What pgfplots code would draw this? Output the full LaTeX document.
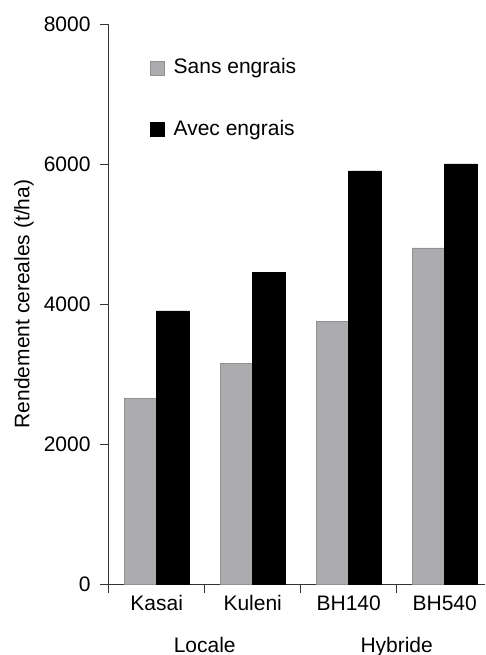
\documentclass[border=0pt]{standalone}
\usepackage{fontspec}
\setmainfont{Liberation Sans}
\usepackage{pgfplots}
\pgfplotsset{compat=1.18}

\definecolor{barGrey}{RGB}{172,172,174}
\definecolor{barGreyLine}{RGB}{145,145,147}

\pgfplotstableread{
idx sans avec
0 2650 3900
1 3150 4450
2 3750 5900
3 4800 6000
}\yields

\begin{document}
\fontsize{21}{25}\selectfont
\begin{tikzpicture}
  % frame of the reference picture, axis box sits at (0,0)
  \path[use as bounding box] (-108.7pt,-71pt) rectangle (377.3pt,584pt);
  \begin{axis}[
    at={(0pt,0pt)}, anchor=south west,
    scale only axis,
    width=376.3pt, height=560pt,
    ybar=0pt, bar width=32.3pt,
    xmin=-0.5, xmax=3.42,
    ymin=0, ymax=8000,
    enlargelimits=false,
    clip=false,
    axis x line=bottom, axis y line=left,
    axis line style={-, black!80},
    tick align=outside,
    major tick length=9pt, minor tick length=9pt,
    tick style={black!80, thin},
    xtick={0,1,2,3},
    xticklabels={Kasai,Kuleni,BH140,BH540},
    major x tick style={draw=none},
    minor xtick={-0.5,0.5,1.5,2.5},
    ytick={0,2000,4000,6000,8000},
    /pgf/number format/.cd, 1000 sep={}, assume math mode=true, /pgfplots/.cd,
    xticklabel style={anchor=base, yshift=-17pt},
    yticklabel style={xshift=-2pt},
    ylabel={Rendement cereales (t/ha)},
    ylabel style={at={(rel axis cs:-0.225,0.5)}, anchor=center},
    legend style={at={(rel axis cs:0.110,0.942)}, anchor=north west,
      draw=none, fill=none, inner sep=0pt, row sep=39pt, column sep=7pt,
      cells={anchor=west, inner sep=0pt}},
    legend image code/.code={\draw[#1] (0pt,-7pt) rectangle (14pt,7pt);},
  ]
    \addplot[fill=barGrey, draw=barGreyLine] table[x=idx, y=sans] {\yields};
    \addplot[fill=black, draw=black] table[x=idx, y=avec] {\yields};
    \legend{Sans engrais, Avec engrais}
    \node[anchor=base] at (axis cs:0.5,0) [yshift=-68pt] {Locale};
    \node[anchor=base] at (axis cs:2.5,0) [yshift=-68pt] {Hybride};
  \end{axis}
\end{tikzpicture}
\end{document}
